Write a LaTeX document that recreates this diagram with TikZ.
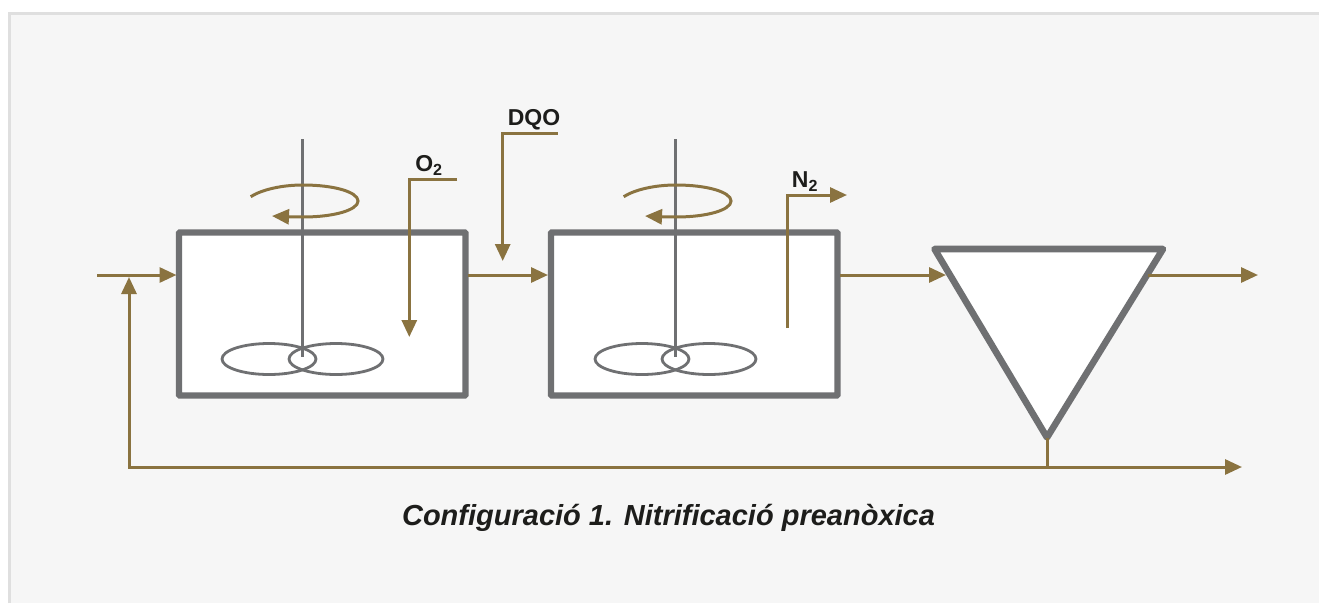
\documentclass[tikz,border=0pt]{standalone}
\usepackage{fontspec}
\setmainfont{Liberation Sans}
\usetikzlibrary{arrows.meta,shapes.geometric}
\definecolor{flowbrown}{HTML}{8A7340}
\definecolor{tankgray}{HTML}{6F7072}
\definecolor{panelgray}{HTML}{F6F6F6}
\definecolor{panelline}{HTML}{DFDFDF}
\definecolor{labelblack}{HTML}{1D1D1B}
\begin{document}
\begin{tikzpicture}[x=1pt,y=-1pt,
    tank/.style={shape=rectangle, draw=tankgray, fill=white, line width=6.4pt, rounded corners=1pt, minimum width=286.5pt, minimum height=163pt, outer sep=0pt},
    shaft/.style={draw=tankgray, line width=3pt},
    paddle/.style={shape=ellipse, draw=tankgray, line width=2.8pt, minimum width=94pt, minimum height=31pt, inner sep=0pt},
    flow/.style={draw=flowbrown, line width=3pt, -{Triangle[length=17pt,width=15pt]}},
    plainflow/.style={draw=flowbrown, line width=3pt},
    label/.style={text=labelblack, font=\fontsize{23}{23}\selectfont\bfseries, inner sep=0pt}]

    \useasboundingbox (0,0) rectangle (1319,603);

    % panel
    \fill[panelgray] (9.5,13.3) rectangle (1319,603);
    \draw[panelline, line width=2.8pt] (9.5,603) -- (9.5,13.3) -- (1319,13.3);

    % tanks
    \node[tank] (tank1) at (322.25,314) {};
    \node[tank] (tank2) at (694.25,314) {};

    % settler
    \coordinate (setleft) at (934.5,249);
    \coordinate (setright) at (1163,249);
    \coordinate (setbottom) at (1047,437.5);
    \draw[draw=tankgray, fill=white, line width=6.6pt, line join=round] (setleft) -- (setright) -- (setbottom) -- cycle;

    % mixers
    \coordinate (top1) at (302.5,139);
    \coordinate (end1) at (302.5,357);
    \coordinate (top2) at (675.5,139);
    \coordinate (end2) at (675.5,357);
    \draw[shaft] (top1) -- (end1);
    \draw[shaft] (top2) -- (end2);
    \node[paddle] (pad1l) at (269,359) {};
    \node[paddle] (pad1r) at (336,359) {};
    \node[paddle] (pad2l) at (642,359) {};
    \node[paddle] (pad2r) at (709,359) {};

    % rotation
    \draw[flow] (250.7,196.7) .. controls (262,189.5) and (282,185) .. (303,185) .. controls (334,185) and (358,192) .. (358,201) .. controls (358,210) and (334,217) .. (303,217) .. controls (293,217) and (283,216.5) .. (272,216);
    \draw[flow] (623.7,196.7) .. controls (635,189.5) and (655,185) .. (676,185) .. controls (707,185) and (731,192) .. (731,201) .. controls (731,210) and (707,217) .. (676,217) .. controls (666,217) and (656,216.5) .. (645,216);

    % main line
    \coordinate (feed) at (97,275);
    \coordinate (in1) at (176.5,275);
    \coordinate (out1) at (468,275);
    \coordinate (in2) at (548,275);
    \coordinate (out2) at (840,275);
    \coordinate (in3) at (946,275);
    \coordinate (out3) at (1148,275);
    \coordinate (exit) at (1258,275);
    \path [flow] (feed) -- (in1);
    \path [flow] (out1) -- (in2);
    \path [flow] (out2) -- (in3);
    \path [flow] (out3) -- (exit);

    % recycle
    \coordinate (recin) at (129,277);
    \coordinate (recout) at (1242,467);
    \coordinate (recjoin) at (1047,467);
    \path [plainflow] (setbottom) -- (recjoin);
    \draw[flow, {Triangle[length=17pt,width=15pt]}-{Triangle[length=17pt,width=15pt]}] (recin) |- (recout);

    % dosing
    \node[label] (o2) at (429,165.5) {O\textsubscript{2}};
    \node[label] (dqo) at (534,120) {DQO};
    \node[label] (n2) at (805,181.5) {N\textsubscript{2}};
    \coordinate (o2start) at (457,179);
    \coordinate (o2end) at (409.3,337);
    \coordinate (dqostart) at (557.7,133);
    \coordinate (dqoend) at (502.7,261);
    \coordinate (n2start) at (787,328);
    \coordinate (n2end) at (847,195);
    \draw[flow] (o2start) -| (o2end);
    \draw[flow] (dqostart) -| (dqoend);
    \draw[flow] (n2start) |- (n2end);

    \node[text=labelblack, font=\fontsize{29}{29}\selectfont\bfseries\itshape, inner sep=0pt] (caption) at (668.5,518) {Configuració 1. Nitrificació preanòxica};

\end{tikzpicture}
\end{document}
